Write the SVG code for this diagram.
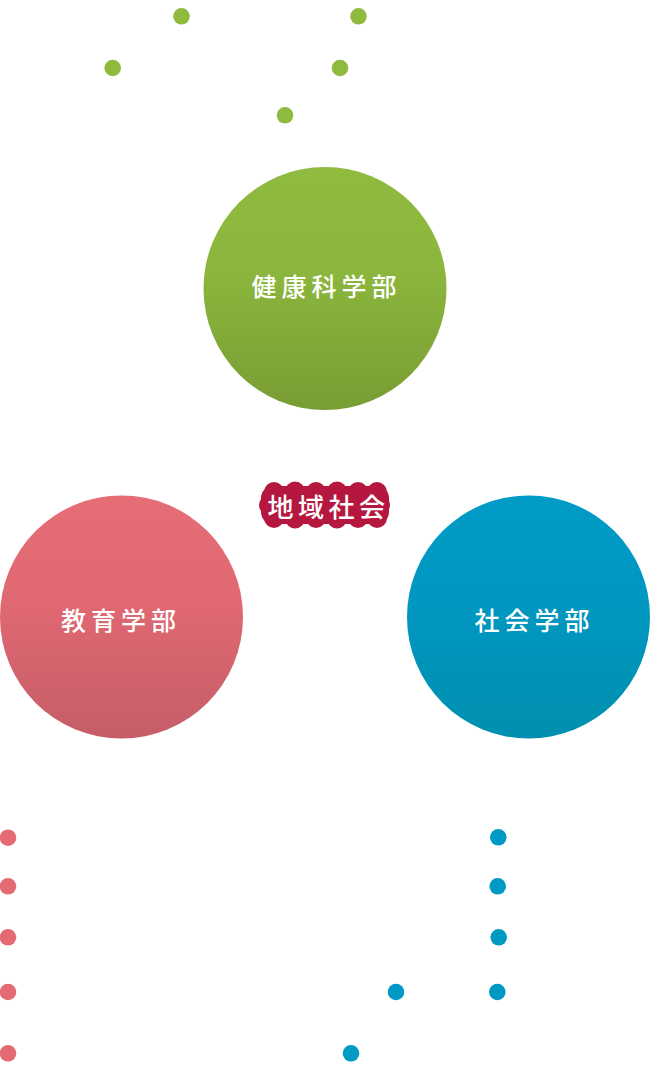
<svg xmlns="http://www.w3.org/2000/svg" width="650" height="1066" viewBox="0 0 650 1066">
  <defs>
    <linearGradient id="gGreen" x1="0" y1="0" x2="0" y2="1">
      <stop offset="0" stop-color="#90bb3f"/>
      <stop offset="0.45" stop-color="#8bb53c"/>
      <stop offset="1" stop-color="#789d34"/>
    </linearGradient>
    <linearGradient id="gRed" x1="0" y1="0" x2="0" y2="1">
      <stop offset="0" stop-color="#e56d76"/>
      <stop offset="0.45" stop-color="#e06872"/>
      <stop offset="1" stop-color="#c55d68"/>
    </linearGradient>
    <linearGradient id="gBlue" x1="0" y1="0" x2="0" y2="1">
      <stop offset="0" stop-color="#009bc6"/>
      <stop offset="0.45" stop-color="#0097c0"/>
      <stop offset="1" stop-color="#008faf"/>
    </linearGradient>
  </defs>
  <style>
    .lbl { font-family: "Noto Sans CJK JP", "Noto Sans CJK SC", sans-serif; font-size: 25px; font-weight: 500; fill: #ffffff; letter-spacing: 5px; text-anchor: middle; dominant-baseline: central; }
    .area { font-family: "Noto Sans CJK JP", "Noto Sans CJK SC", sans-serif; font-size: 26px; font-weight: 500; fill: #ffffff; letter-spacing: 4.5px; text-anchor: middle; dominant-baseline: central; }
    .dg { fill: #8fba3e; }
    .dr { fill: #e46a74; }
    .db { fill: #0099c4; }
    .lab { fill: #b5173f; }
  </style>

  <g id="connectors"></g>

  <g id="dots-green">
    <circle class="dg" cx="181.5" cy="16.3" r="8.3"/>
    <circle class="dg" cx="358.5" cy="16.3" r="8.3"/>
    <circle class="dg" cx="112.7" cy="68" r="8.3"/>
    <circle class="dg" cx="340" cy="68" r="8.3"/>
    <circle class="dg" cx="285" cy="115.3" r="8.3"/>
  </g>

  <g id="node-kenko">
    <circle cx="325" cy="288.5" r="121.5" fill="url(#gGreen)"/>
    <text class="lbl" x="326.5" y="285">健康科学部</text>
  </g>

  <g id="node-chiiki">
    <rect class="lab" x="261" y="486" width="128" height="38" rx="12"/>
    <circle class="lab" cx="274" cy="492" r="10"/>
    <circle class="lab" cx="295" cy="491.5" r="10"/>
    <circle class="lab" cx="316" cy="492" r="10"/>
    <circle class="lab" cx="337" cy="491.5" r="10"/>
    <circle class="lab" cx="358" cy="492" r="10"/>
    <circle class="lab" cx="377" cy="492" r="10"/>
    <circle class="lab" cx="274" cy="518" r="10"/>
    <circle class="lab" cx="295" cy="518.5" r="10"/>
    <circle class="lab" cx="316" cy="518" r="10"/>
    <circle class="lab" cx="337" cy="518.5" r="10"/>
    <circle class="lab" cx="358" cy="518" r="10"/>
    <circle class="lab" cx="377" cy="518" r="10"/>
    <circle class="lab" cx="269" cy="505" r="10"/>
    <circle class="lab" cx="381" cy="505" r="9"/>
    <text class="area" x="328.5" y="505">地域社会</text>
  </g>

  <g id="node-kyoiku">
    <circle cx="121.5" cy="617" r="121.5" fill="url(#gRed)"/>
    <text class="lbl" x="121" y="619">教育学部</text>
  </g>

  <g id="node-shakai">
    <circle cx="528.5" cy="617" r="121.5" fill="url(#gBlue)"/>
    <text class="lbl" x="534.5" y="619">社会学部</text>
  </g>

  <g id="dots-red">
    <circle class="dr" cx="8" cy="837.7" r="8.3"/>
    <circle class="dr" cx="8" cy="886.3" r="8.3"/>
    <circle class="dr" cx="8" cy="937.3" r="8.3"/>
    <circle class="dr" cx="8" cy="992" r="8.3"/>
    <circle class="dr" cx="8" cy="1053.3" r="8.3"/>
  </g>

  <g id="dots-blue">
    <circle class="db" cx="498.3" cy="837.3" r="8.3"/>
    <circle class="db" cx="497.7" cy="886.3" r="8.3"/>
    <circle class="db" cx="498.7" cy="937.3" r="8.3"/>
    <circle class="db" cx="396" cy="992" r="8.3"/>
    <circle class="db" cx="497.3" cy="992" r="8.3"/>
    <circle class="db" cx="351" cy="1053.3" r="8.3"/>
  </g>
</svg>
